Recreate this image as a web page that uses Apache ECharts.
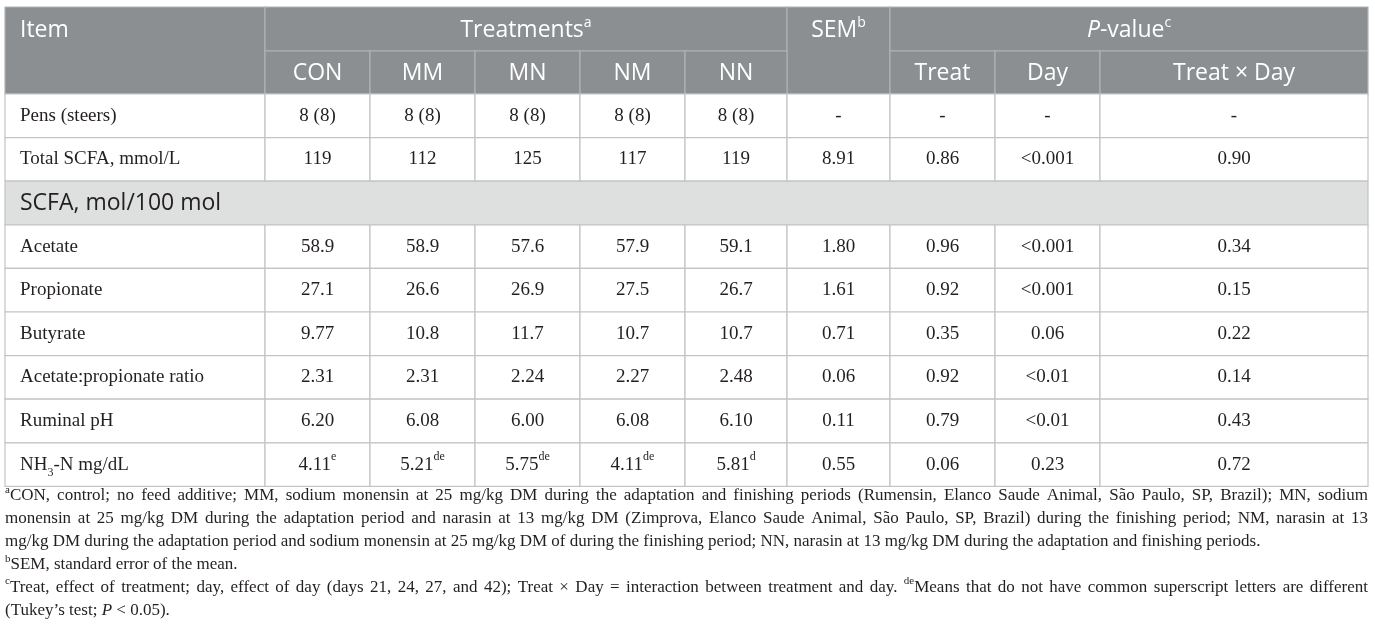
<!DOCTYPE html>
<html>
<head>
<meta charset="utf-8">
<script src="https://cdn.jsdelivr.net/npm/echarts@6/dist/echarts.min.js"></script>
<style>
  html, body { margin: 0; background: #fff; }
  #main { width: 1375px; height: 636px; }
</style>
</head>
<body>
<div id="main"></div>
<script>
// table contents
var treatments = ['CON', 'MM', 'MN', 'NM', 'NN'];
var pvalueTerms = ['Treat', 'Day', 'Treat \u00d7 Day'];
var items = ['Pens (steers)', 'Total SCFA, mmol/L', 'SCFA, mol/100 mol', 'Acetate', 'Propionate',
  'Butyrate', 'Acetate:propionate ratio', 'Ruminal pH', 'NH{sub|3}-N mg/dL'];
var con = ['8 (8)', '119', null, '58.9', '27.1', '9.77', '2.31', '6.20', '4.11{sup|e}'];
var mm = ['8 (8)', '112', null, '58.9', '26.6', '10.8', '2.31', '6.08', '5.21{sup|de}'];
var mn = ['8 (8)', '125', null, '57.6', '26.9', '11.7', '2.24', '6.00', '5.75{sup|de}'];
var nm = ['8 (8)', '117', null, '57.9', '27.5', '10.7', '2.27', '6.08', '4.11{sup|de}'];
var nn = ['8 (8)', '119', null, '59.1', '26.7', '10.7', '2.48', '6.10', '5.81{sup|d}'];
var sem = ['-', '8.91', null, '1.80', '1.61', '0.71', '0.06', '0.11', '0.55'];
var pTreat = ['-', '0.86', null, '0.96', '0.92', '0.35', '0.92', '0.79', '0.06'];
var pDay = ['-', '<0.001', null, '<0.001', '<0.001', '0.06', '<0.01', '<0.01', '0.23'];
var pTreatDay = ['-', '0.90', null, '0.34', '0.15', '0.22', '0.14', '0.43', '0.72'];
var footnotes = [
  '{sup|a}CON, control; no feed additive; MM, sodium monensin at 25 mg/kg DM during the adaptation and finishing periods (Rumensin, Elanco Saude Animal, S\u00e3o Paulo, SP, Brazil); MN, sodium',
  'monensin at 25 mg/kg DM during the adaptation period and narasin at 13 mg/kg DM (Zimprova, Elanco Saude Animal, S\u00e3o Paulo, SP, Brazil) during the finishing period; NM, narasin at 13',
  'mg/kg DM during the adaptation period and sodium monensin at 25 mg/kg DM of during the finishing period; NN, narasin at 13 mg/kg DM during the adaptation and finishing periods.',
  '{sup|b}SEM, standard error of the mean.',
  '{sup|c}Treat, effect of treatment; day, effect of day (days 21, 24, 27, and 42); Treat \u00d7 Day = interaction between treatment and day. {sup|de}Means that do not have common superscript letters are different',
  '(Tukey\u2019s test; {it|P} < 0.05).'
];

var columns = [con, mm, mn, nm, nn, sem, pTreat, pDay, pTreatDay];

// layout
var colEdges = [5, 265, 370, 475, 580, 685, 787, 890, 995, 1100, 1368];
var headTop = 7, headMid = 51, bodyTop = 94, rowH = 43.6;
var rowEdges = [headTop, headMid, bodyTop];
for (var i = 1; i <= items.length; i++) rowEdges.push(bodyTop + i * rowH);

var SANS = 'Open Sans';
var SERIF = 'Liberation Serif';
var INK = '#231f20';

var styles = {
  head: { font: SANS, size: 23, sup: 14, supH: 19, dy: 1, color: '#ffffff', bg: '#8b8f91', line: '#b0b3b5' },
  section: { font: SANS, size: 23, sup: 14, supH: 19, dy: 0, color: INK, bg: '#dedfdf', line: '#c4c4c4' },
  body: { font: SERIF, size: 19, sup: 12, supH: 19, dy: 0, color: INK, bg: '#ffffff', line: '#c4c4c4' }
};

function richFor(s) {
  return {
    sup: { fontFamily: s.font, fontSize: s.sup, lineHeight: s.supH, verticalAlign: 'top', fill: s.color },
    sub: { fontFamily: s.font, fontSize: s.sup, lineHeight: 14, verticalAlign: 'bottom', fill: s.color },
    it: { fontFamily: s.font, fontSize: s.size, fontStyle: 'italic', lineHeight: 28, fill: s.color }
  };
}

// cells: column span, row span (indices into the edge lists), text and look
var cells = [];
cells.push({ c: [0, 1], r: [0, 2], text: 'Item', style: 'head', align: 'left', top: true });
cells.push({ c: [1, 6], r: [0, 1], text: 'Treatments{sup|a}', style: 'head' });
cells.push({ c: [6, 7], r: [0, 2], text: 'SEM{sup|b}', style: 'head', top: true });
cells.push({ c: [7, 10], r: [0, 1], text: '{it|P}-value{sup|c}', style: 'head' });
treatments.forEach(function (t, k) {
  cells.push({ c: [1 + k, 2 + k], r: [1, 2], text: t, style: 'head' });
});
pvalueTerms.forEach(function (t, k) {
  cells.push({ c: [7 + k, 8 + k], r: [1, 2], text: t, style: 'head' });
});
items.forEach(function (name, r) {
  var rr = [r + 2, r + 3];
  if (columns[0][r] === null) {
    cells.push({ c: [0, 10], r: rr, text: name, style: 'section', align: 'left' });
    return;
  }
  cells.push({ c: [0, 1], r: rr, text: name, style: 'body', align: 'left' });
  columns.forEach(function (col, k) {
    cells.push({ c: [1 + k, 2 + k], r: rr, text: col[r], style: 'body' });
  });
});

// footnotes: justified lines like the printed table
var FN_SIZE = 17, FN_SUP = 11;
var fnLeft = 5, fnRight = 1368, fnTop = 496, fnStep = 22.9;
var ctx = document.createElement('canvas').getContext('2d');
function measure(word) {
  var w = 0;
  var re = /\{(\w+)\|([^}]*)\}|([^{]+)/g, m;
  while ((m = re.exec(word))) {
    if (m[3]) { ctx.font = FN_SIZE + 'px "' + SERIF + '"'; w += ctx.measureText(m[3]).width; }
    else if (m[1] === 'sup') { ctx.font = FN_SUP + 'px "' + SERIF + '"'; w += ctx.measureText(m[2]).width; }
    else { ctx.font = 'italic ' + FN_SIZE + 'px "' + SERIF + '"'; w += ctx.measureText(m[2]).width; }
  }
  return w;
}
var fnRich = {
  sup: { fontFamily: SERIF, fontSize: FN_SUP, lineHeight: 12, verticalAlign: 'top', fill: INK },
  it: { fontFamily: SERIF, fontSize: FN_SIZE, fontStyle: 'italic', lineHeight: 23, fill: INK }
};
function fnText(text, x, y) {
  return { type: 'text', x: x, y: y, style: {
    text: text, fontFamily: SERIF, fontSize: FN_SIZE, lineHeight: 23, fill: INK,
    align: 'left', verticalAlign: 'middle', rich: fnRich } };
}
var fnGraphics = [];
footnotes.forEach(function (line, li) {
  var next = footnotes[li + 1];
  var justify = next !== undefined && next.indexOf('{sup|') !== 0;
  var y = fnTop + li * fnStep;
  if (!justify) {
    fnGraphics.push(fnText(line, fnLeft, y));
    return;
  }
  var words = line.split(' ');
  var widths = words.map(measure);
  var total = widths.reduce(function (a, b) { return a + b; }, 0);
  var gap = (fnRight - fnLeft - total) / (words.length - 1);
  var x = fnLeft;
  words.forEach(function (w, k) {
    fnGraphics.push(fnText(w, x, y));
    x += widths[k] + gap;
  });
});

var myChart = echarts.init(document.getElementById('main'));

var option = {
  animation: false,
  grid: { left: 0, right: 0, top: 0, bottom: 0 },
  xAxis: { type: 'value', min: 0, max: 1375, show: false },
  yAxis: { type: 'value', min: 0, max: 636, inverse: true, show: false },
  series: [{
    type: 'custom',
    coordinateSystem: 'cartesian2d',
    clip: false,
    data: cells.map(function (cell, k) { return [k]; }),
    renderItem: function (params, api) {
      var cell = cells[params.dataIndex];
      var s = styles[cell.style];
      var p0 = api.coord([colEdges[cell.c[0]], rowEdges[cell.r[0]]]);
      var p1 = api.coord([colEdges[cell.c[1]], rowEdges[cell.r[1]]]);
      var ty = cell.top
        ? (api.coord([0, rowEdges[0]])[1] + api.coord([0, rowEdges[1]])[1]) / 2
        : (p0[1] + p1[1]) / 2;
      var left = cell.align === 'left';
      return {
        type: 'group',
        children: [{
          type: 'rect',
          shape: { x: p0[0], y: p0[1], width: p1[0] - p0[0], height: p1[1] - p0[1] },
          style: { fill: s.bg, stroke: s.line, lineWidth: 1.2 }
        }, {
          type: 'text',
          z2: 10,
          style: {
            text: cell.text,
            x: left ? p0[0] + 15 : (p0[0] + p1[0]) / 2,
            y: ty + s.dy,
            align: left ? 'left' : 'center',
            verticalAlign: 'middle',
            fontFamily: s.font,
            fontSize: s.size,
            lineHeight: 28,
            fill: s.color,
            rich: richFor(s)
          }
        }]
      };
    }
  }],
  graphic: fnGraphics
};

myChart.setOption(option);
</script>
</body>
</html>
